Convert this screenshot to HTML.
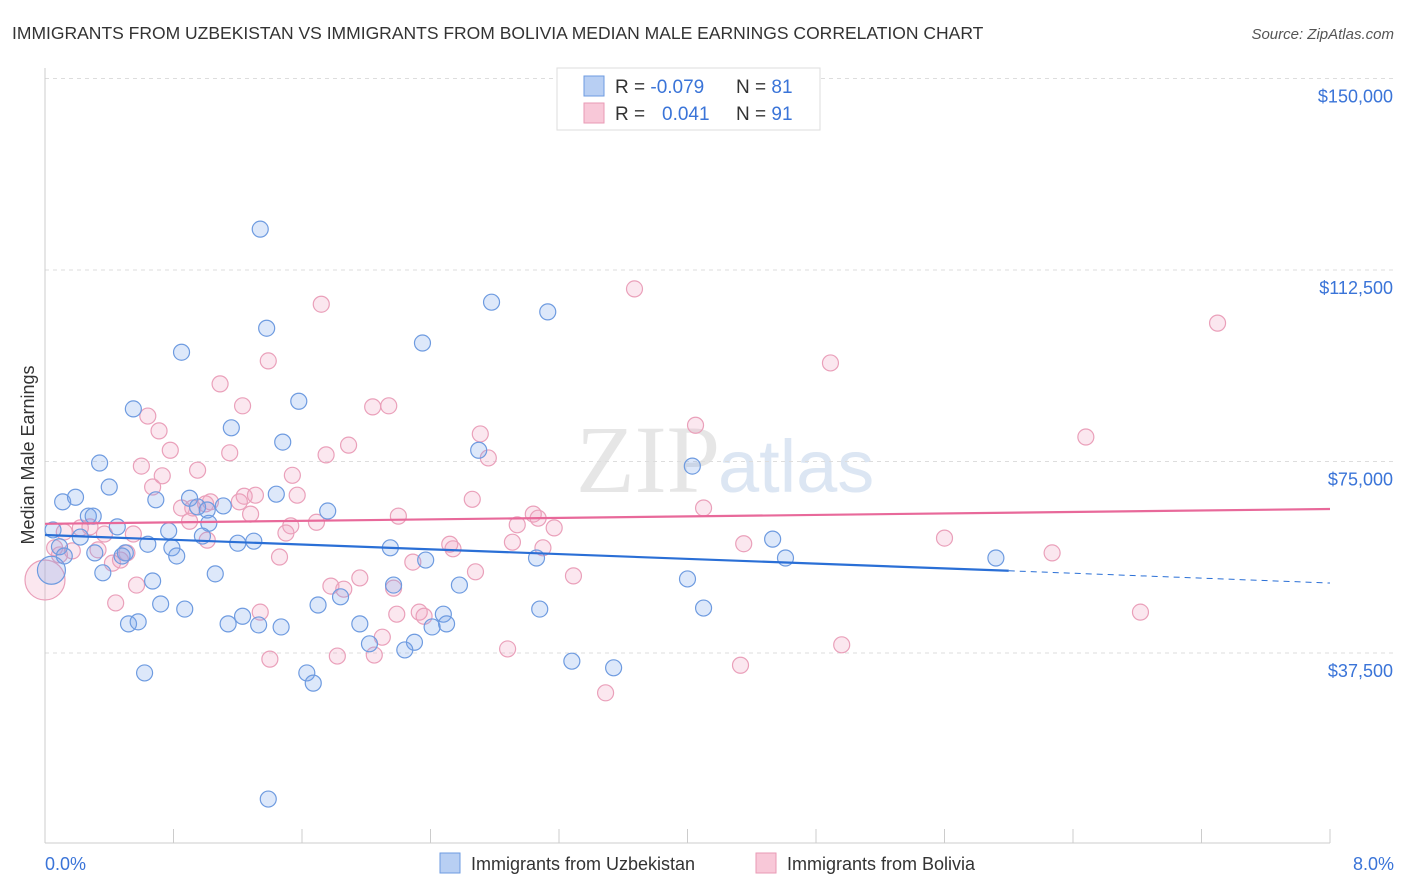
<!DOCTYPE html>
<html><head><meta charset="utf-8"><style>
body{margin:0;background:#fff;font-family:"Liberation Sans",sans-serif}
svg{display:block}
</style></head><body>
<svg id="c" width="1406" height="892">
<text x="12" y="39" font-size="17.5" fill="#333">IMMIGRANTS FROM UZBEKISTAN VS IMMIGRANTS FROM BOLIVIA MEDIAN MALE EARNINGS CORRELATION CHART</text>
<text x="1394" y="39" font-size="15" fill="#555" font-style="italic" text-anchor="end">Source: ZipAtlas.com</text>
<text x="720" y="492" font-size="96" fill="#e6e6e6" text-anchor="end" font-family="Liberation Serif">ZIP</text>
<text x="718" y="492" font-size="74" fill="#dce6f3">atlas</text>
<g id="grid"></g><g id="pts"></g><g id="trend"></g>
<text transform="translate(34,455) rotate(-90)" font-size="18" fill="#333" text-anchor="middle">Median Male Earnings</text>
<text x="45" y="870" font-size="18" fill="#3a74d8">0.0%</text>
<text x="1394" y="870" font-size="18" fill="#3a74d8" text-anchor="end">8.0%</text>
<g>
<rect x="557" y="68" width="263" height="62" fill="#fff" stroke="#ddd"/>
<rect x="584" y="76" width="20" height="20" fill="#b8cff3" stroke="#6e9be0"/>
<rect x="584" y="103" width="20" height="20" fill="#f8c8d8" stroke="#e99ab5"/>
<text x="615" y="93" font-size="19" fill="#333">R = <tspan fill="#3a74d8">-0.079</tspan><tspan x="736">N = </tspan><tspan fill="#3a74d8">81</tspan></text>
<text x="615" y="120" font-size="19" fill="#333">R = <tspan x="662" fill="#3a74d8">0.041</tspan><tspan x="736">N = </tspan><tspan fill="#3a74d8">91</tspan></text>
</g>
<g>
<rect x="440" y="853" width="20" height="20" fill="#b8cff3" stroke="#6e9be0"/>
<text x="471" y="870" font-size="18" fill="#333">Immigrants from Uzbekistan</text>
<rect x="756" y="853" width="20" height="20" fill="#f8c8d8" stroke="#e99ab5"/>
<text x="787" y="870" font-size="18" fill="#333">Immigrants from Bolivia</text>
</g>
</svg>
<script>
const yTicks=[37500,75000,112500,150000];
const yTickLabels=["$37,500","$75,000","$112,500","$150,000"];
const xTicks=[0,0.8,1.6,2.4,3.2,4,4.8,5.6,6.4,7.2,8];
const blueX=[1.34,1.38,0.85,2.35,2.78,3.13,0.55,1.58,1.16,1.48,2.70,4.03,0.34,0.40,0.11,0.19,0.27,0.30,0.69,0.90,0.95,1.11,1.01,1.44,1.76,1.02,0.45,0.05,0.22,0.09,0.64,0.77,0.79,0.82,0.98,1.20,1.30,0.50,0.31,0.48,0.12,0.36,1.06,2.15,2.37,3.06,4.53,4.61,5.92,4.00,0.67,2.58,2.17,1.84,1.70,0.72,0.87,1.23,1.14,1.33,1.47,0.52,0.58,1.96,2.48,2.50,2.41,2.30,2.24,2.02,3.08,4.10,3.28,3.54,0.62,1.63,1.67,1.39,0.04];
const blueY=[120.5,101.1,96.4,98.2,106.2,104.3,85.3,86.8,81.6,78.8,77.2,74.1,74.7,70.0,67.1,68.0,64.3,64.3,67.5,67.8,66.1,66.3,65.5,68.6,65.3,62.9,62.2,61.6,60.2,58.3,58.8,61.4,58.1,56.5,60.4,59.0,59.4,57.1,57.1,56.5,56.5,53.2,53.0,58.1,55.7,56.1,59.8,56.1,56.1,52.0,51.6,50.8,50.8,48.5,46.9,47.1,46.1,44.7,43.2,43.0,42.6,43.2,43.6,43.2,45.1,43.2,42.6,39.6,38.1,39.3,46.1,46.3,35.9,34.6,33.6,33.6,31.6,8.9,53.7];
const blueSize=blueX.map((v,i)=>i===blueX.length-1?14:8);
const pinkX=[1.72,3.67,7.30,1.39,4.89,1.09,1.23,2.04,2.14,0.64,0.71,1.89,2.71,4.05,6.48,0.78,1.75,2.76,1.15,0.60,0.95,0.73,1.54,0.67,2.66,1.24,1.31,1.57,1.03,1.21,0.85,0.92,1.00,0.90,1.28,2.20,1.69,3.04,3.07,4.10,0.22,0.28,0.12,0.37,0.55,1.53,1.50,3.17,2.94,1.01,2.52,2.54,2.91,3.10,4.35,5.60,6.27,0.06,0.17,0.33,0.42,0.47,0.51,0.09,1.46,2.29,2.68,1.96,3.29,0.57,1.78,1.86,2.17,0.44,1.34,2.19,2.33,2.36,2.10,1.40,1.82,2.05,2.88,4.33,4.96,6.82,3.49,0.00];
const pinkY=[105.8,108.8,102.1,94.7,94.3,90.2,85.9,85.7,85.9,83.9,81.0,78.2,80.4,82.1,79.8,77.2,76.3,75.7,76.7,74.1,73.3,72.2,72.3,70.0,67.6,68.2,68.4,68.4,67.1,67.1,65.9,65.9,66.7,63.3,64.7,64.3,63.1,64.7,63.9,65.9,62.0,62.2,61.2,60.8,60.8,62.4,61.0,62.0,62.6,59.6,58.8,57.9,59.2,58.1,58.9,60.0,57.1,58.1,57.5,57.7,55.1,55.7,57.1,56.7,56.3,55.3,53.4,52.2,52.6,50.8,50.6,50.0,50.2,47.3,45.5,45.1,45.5,44.7,40.6,36.3,36.9,37.1,38.3,35.1,39.1,45.5,29.7,51.8];
const pinkSize=pinkX.map((v,i)=>i===pinkX.length-1?20:8);
const blueTrendX=[0,6.0,8];const blueTrendY=[60.6,53.6,51.2];
const pinkTrendX=[0,8];const pinkTrendY=[62.8,65.7];
const X=v=>45+v/8*1285;
const Y=v=>844.5-v/37500*191.5;
const YK=v=>Y(v*1000);
const NS="http://www.w3.org/2000/svg";
function mk(t,a,p){const e=document.createElementNS(NS,t);for(const k in a)e.setAttribute(k,a[k]);p.appendChild(e);return e;}
const g=document.getElementById('grid');
yTicks.forEach((t,i)=>{
 const l=mk('line',{x1:45,x2:1394,y1:Y(t),y2:Y(t),stroke:'#ddd','stroke-dasharray':'4,4'},g);
 
 
 const tx=mk('text',{x:1393,y:Y(t)+24,'font-size':18,fill:'#3a74d8','text-anchor':'end'},g);
 tx.textContent=yTickLabels[i];
 
 
});
const ax=mk('line',{x1:45,x2:1330,y1:843,y2:843,stroke:'#ccc'},g);


const ay=mk('line',{x1:45,x2:45,y1:68,y2:843,stroke:'#ccc'},g);


xTicks.forEach(t=>{
 const l=mk('line',{x1:X(t),x2:X(t),y1:829,y2:843,stroke:'#ccc'},g);
 
 
});
const p=document.getElementById('pts');
pinkX.forEach((v,i)=>{
 const c=mk('circle',{cx:X(v),cy:YK(pinkY[i]),r:pinkSize[i],fill:'rgba(240,160,190,0.25)',stroke:'#eaa0ba','stroke-width':1.2},p);
 
 
});
blueX.forEach((v,i)=>{
 const c=mk('circle',{cx:X(v),cy:YK(blueY[i]),r:blueSize[i],fill:'rgba(120,165,235,0.25)',stroke:'#6e9be0','stroke-width':1.2},p);
 
 
});
const tr=document.getElementById('trend');
const b1=mk('line',{x1:X(blueTrendX[0]),y1:YK(blueTrendY[0]),x2:X(blueTrendX[1]),y2:YK(blueTrendY[1]),stroke:'#2a6fd6','stroke-width':2.2},tr);


const b2=mk('line',{x1:X(blueTrendX[1]),y1:YK(blueTrendY[1]),x2:X(blueTrendX[2]),y2:YK(blueTrendY[2]),stroke:'#2a6fd6','stroke-width':1,'stroke-dasharray':'6,5'},tr);


const p1=mk('line',{x1:X(pinkTrendX[0]),y1:YK(pinkTrendY[0]),x2:X(pinkTrendX[1]),y2:YK(pinkTrendY[1]),stroke:'#e8699a','stroke-width':2.2},tr);


</script>
</body></html>
